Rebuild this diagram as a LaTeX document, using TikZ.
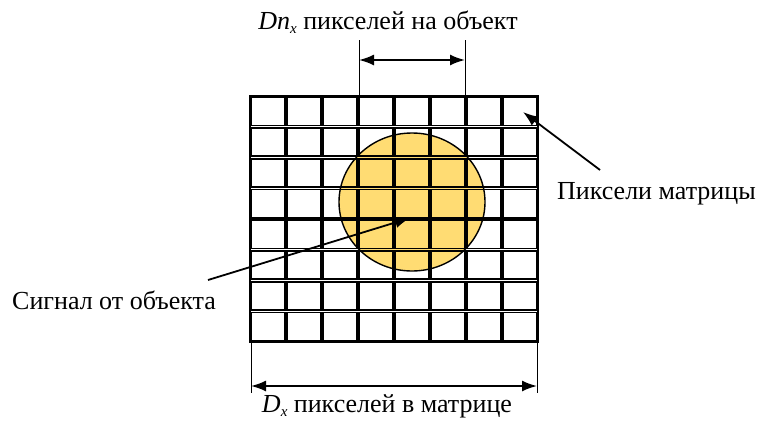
\documentclass[tikz,border=0pt]{standalone}
\usepackage{fontspec}
\setmainfont{Liberation Serif}
\usetikzlibrary{arrows.meta}
\definecolor{objfill}{RGB}{255,220,115}
\begin{document}
\begin{tikzpicture}[x=1pt,y=-1pt,
  lbl/.style={font=\fontsize{26}{30}\selectfont, inner sep=0pt},
  cell/.style={draw=black, line width=1.7pt},
  dimline/.style={line width=0.9pt},
  arr/.style={line width=1.8pt, -{Latex[length=15pt,width=11pt]}},
  darr/.style={line width=1.8pt, {Latex[length=15pt,width=11pt]}-{Latex[length=15pt,width=11pt]}}]
\useasboundingbox (0,0) rectangle (760,421);
% object signal
\fill[objfill] (412,202) ellipse [x radius=73, y radius=69];
% pixel grid
\foreach \i in {0,...,7}{
  \foreach \j in {0,...,7}{
    \draw[cell] ({250+36*\i+1.3},{96+30.75*\j+1.3}) rectangle ({250+36*(\i+1)-1.3},{96+30.75*(\j+1)-1.3});
  }
}
\draw[line width=1.8pt] (250,96) rectangle (538,342);
\draw[line width=1.4pt] (412,202) ellipse [x radius=73, y radius=69];
% labels
\node[lbl] (top) at (388,22) {\textit{Dn}\raisebox{-0.35ex}{\fontsize{15}{16}\selectfont\textit{x}} пикселей на объект};
\node[lbl] (bot) at (387,406) {\textit{D}\raisebox{-0.35ex}{\fontsize{15}{16}\selectfont\textit{x}} пикселей в матрице};
\node[lbl, anchor=west] (pix) at (557,194) {Пиксели матрицы};
\node[lbl, anchor=west] (sig) at (12,300) {Сигнал от объекта};
% top dimension
\coordinate (t1a) at (359,40); \coordinate (t1b) at (359,96);
\coordinate (t2a) at (465,40); \coordinate (t2b) at (465,96);
\coordinate (ta) at (359,60); \coordinate (tb) at (465,60);
\draw[dimline] (t1a) -- (t1b);
\draw[dimline] (t2a) -- (t2b);
\draw[darr] (ta) -- (tb);
% bottom dimension
\coordinate (b1a) at (251,342); \coordinate (b1b) at (251,393);
\coordinate (b2a) at (537,342); \coordinate (b2b) at (537,393);
\coordinate (ba) at (251,386); \coordinate (bb) at (537,386);
\draw[dimline] (b1a) -- (b1b);
\draw[dimline] (b2a) -- (b2b);
\draw[darr] (ba) -- (bb);
% pointer arrows
\coordinate (pixtail) at (600,170); \coordinate (pixtip) at (523,112);
\coordinate (sigtail) at (208,280); \coordinate (sigtip) at (410,218);
\draw[arr] (pixtail) -- (pixtip);
\draw[arr] (sigtail) -- (sigtip);
\end{tikzpicture}
\end{document}
